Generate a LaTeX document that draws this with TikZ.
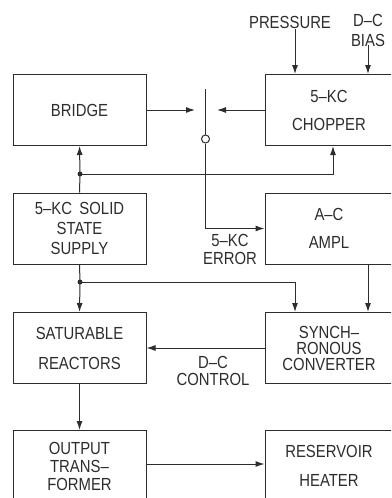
\documentclass[tikz,border=0pt]{standalone}
\usepackage{fontspec}
\setmainfont{Liberation Sans}[FakeStretch=0.85,WordSpace=1.8]
\usepackage{tikz}
\usetikzlibrary{arrows.meta,positioning,calc}
\definecolor{inkgray}{RGB}{45,45,45}
\tikzset{
  blk/.style={draw=inkgray,line width=1pt,minimum width=133pt,minimum height=71pt,
    align=center,inner sep=2pt,font=\fontsize{17.5}{20}\selectfont},
  rblk/.style={blk,minimum width=128pt},
  lbl/.style={align=center,inner sep=1pt,text=inkgray,font=\fontsize{17.5}{20}\selectfont},
  arr/.style={draw=inkgray,line width=1pt,-{Latex[length=9pt,width=6pt]}},
  wire/.style={draw=inkgray,line width=1pt}
}
\begin{document}
\begin{tikzpicture}[x=1pt,y=-1pt,text=inkgray]
\useasboundingbox[fill=white] (0,0) rectangle (391,498);
\clip (0,0) rectangle (391,498);
\node[blk] (bridge) at (79.5,110) {BRIDGE};
\node[rblk] (chopper) at (329,110) {5--KC\\[8pt]CHOPPER};
\node[blk] (supply) at (79.5,228.5) {5--KC SOLID\\STATE\\SUPPLY};
\node[rblk] (ampl) at (329,228.5) {A--C\\[8pt]AMPL};
\node[blk] (reactors) at (79.5,348) {SATURABLE\\[10pt]REACTORS};
\node[rblk] (converter) at (329,348) {SYNCH--\\[-4pt]RONOUS\\[-4pt]CONVERTER};
\node[blk] (transformer) at (79.5,466) {OUTPUT\\[-2pt]TRANS--\\[-2pt]FORMER};
\node[rblk] (heater) at (329,466) {RESERVOIR\\[9pt]HEATER};
\node[lbl] (pressure) at (290,22) {PRESSURE};
\node[lbl] (bias) at (368,30) {D--C\\BIAS};
\node[lbl] (error) at (230,249) {5--KC\\[-2pt]ERROR};
\node[lbl] (control) at (213,371) {D--C\\[-3pt]CONTROL};
\coordinate (swtop) at (205.5,89);
\node[draw=inkgray,line width=1pt,circle,inner sep=0pt,minimum size=8pt,fill=white] (swc) at (205.5,139) {};
\coordinate (swL) at (195,110);
\coordinate (swR) at (217,110);
\coordinate (bus1) at (80,174);
\coordinate (bus2) at (80,282);
\draw[wire] (swtop) -- (swc.north);
\draw[arr] (bridge.east) -- (swL);
\draw[arr] (chopper.west) -- (swR);
\draw[arr] ([xshift=5pt]pressure.south) -- ([xshift=5pt]pressure.south |- chopper.north);
\draw[arr] ([yshift=2pt]bias.south) -- (bias.south |- chopper.north);
\draw[wire] (supply.north) -- (bus1);
\draw[arr] (bus1) -- (bridge.south);
\draw[arr] (bus1) -| ([xshift=4pt]chopper.south);
\fill[inkgray] (bus1) circle (2.5pt);
\draw[arr] (swc.south) |- (ampl.west);
\draw[wire] (supply.south) -- (bus2);
\draw[arr] (bus2) -- (reactors.north);
\draw[arr] (bus2) -| ([xshift=-34pt]converter.north);
\fill[inkgray] (bus2) circle (2.5pt);
\draw[arr] ([xshift=39pt]ampl.south) -- ([xshift=39pt]converter.north);
\draw[arr] (converter.west) -- (reactors.east);
\draw[arr] (reactors.south) -- (transformer.north);
\draw[arr] ([yshift=2pt]transformer.east) -- ([yshift=2pt]heater.west);
\end{tikzpicture}
\end{document}
